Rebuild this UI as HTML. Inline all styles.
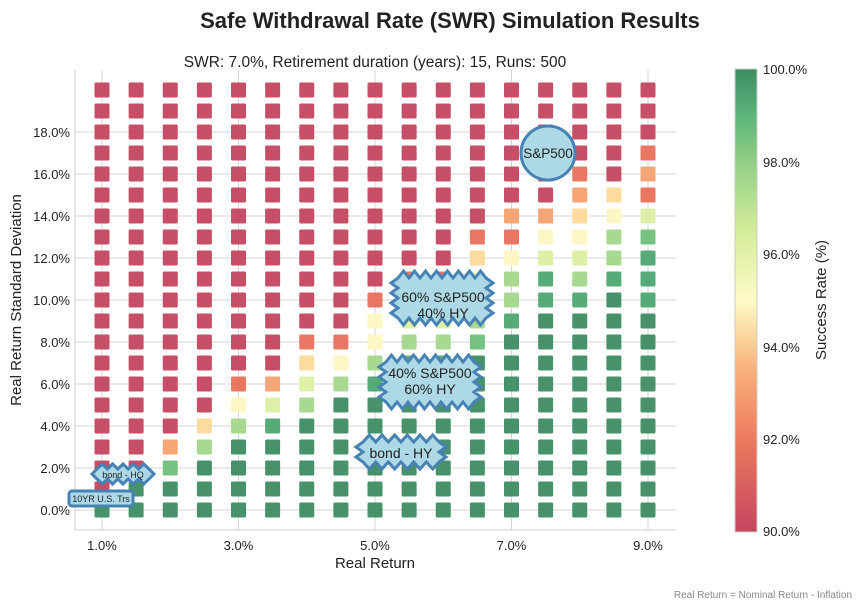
<!DOCTYPE html>
<html><head><meta charset="utf-8"><style>
html,body{margin:0;padding:0;background:#fff;}
svg{display:block;font-family:"Liberation Sans",sans-serif;}
</style></head><body>
<svg id="s" width="859" height="607" viewBox="0 0 859 607" xmlns="http://www.w3.org/2000/svg">
<defs>
<linearGradient id="cb" x1="0" y1="1" x2="0" y2="0">
<stop offset="0" stop-color="#c4455f"/>
<stop offset="0.2" stop-color="#ec7a5e"/>
<stop offset="0.35" stop-color="#f9b07a"/>
<stop offset="0.5" stop-color="#fefcc6"/>
<stop offset="0.65" stop-color="#d4ec9a"/>
<stop offset="0.8" stop-color="#90cf84"/>
<stop offset="0.9" stop-color="#5bb47a"/>
<stop offset="1" stop-color="#3d8c62"/>
</linearGradient>
</defs>
<rect width="859" height="607" fill="#fff"/>
<text x="450" y="28" text-anchor="middle" font-size="22" font-weight="bold" fill="#222">Safe Withdrawal Rate (SWR) Simulation Results</text>
<text x="375" y="67" text-anchor="middle" font-size="15.5" fill="#222">SWR: 7.0%, Retirement duration (years): 15, Runs: 500</text>
<g id="grid" stroke="#d6d6d6" stroke-width="1"></g>
<line x1="75" y1="70" x2="75" y2="530" stroke="#ccc"/>
<line x1="75" y1="530" x2="676" y2="530" stroke="#ccc"/>
<g id="cells"></g>
<g id="ticks" font-size="13" fill="#222"></g>
<text x="375" y="568" text-anchor="middle" font-size="15" fill="#222">Real Return</text>
<text transform="translate(21,300) rotate(-90)" text-anchor="middle" font-size="15" fill="#222">Real Return Standard Deviation</text>
<rect x="735" y="69" width="22" height="463" fill="url(#cb)" stroke="#ccc"/>
<g font-size="13" fill="#222">
<text x="763" y="74">100.0%</text>
<text x="763" y="167">98.0%</text>
<text x="763" y="259">96.0%</text>
<text x="763" y="352">94.0%</text>
<text x="763" y="444">92.0%</text>
<text x="763" y="536">90.0%</text>
</g>
<text transform="translate(826,300) rotate(-90)" text-anchor="middle" font-size="15" fill="#222">Success Rate (%)</text>
<text x="852" y="598" text-anchor="end" font-size="10" fill="#888">Real Return = Nominal Return - Inflation</text>
<g id="labels"></g>
</svg>
<script>
var C={R:"#c4455f",r:"#e8705b",o:"#f5a070",y:"#fdd99a",Y:"#fef7c2",l:"#dbefa0",g:"#a3d78a",G:"#6dc07a",D:"#4da672",E:"#3d8c62"};
var cols=[
"ERR","EERR","EEGo","EEEgy","EEEEgYr","EEEEDlo","EEEEEglyr","EEEEEEgYr","EEEEEEDgYYr",
"EEEEEEEDglYr","EEEEEEEDglYr","EEEEEEEEGglYyr","EEEEEEEEEDggYro","EEEEEEEEEEDDlYo",
"EEEEEEEEEEDglYyor","EEEEEEEEEEEDggYy","EEEEEEEEEEDDDGlror"];
var ns="http://www.w3.org/2000/svg";
function el(t,a,p){var e=document.createElementNS(ns,t);for(var k in a)e.setAttribute(k,a[k]);p.appendChild(e);return e;}
var g=document.getElementById("grid"),c=document.getElementById("cells"),tk=document.getElementById("ticks");
function X(r){return 102+(r-1)*68.25;}
function Y(s){return 510-s*21;}
[1,3,5,7,9].forEach(function(v){el("line",{x1:X(v),y1:70,x2:X(v),y2:530},g);var t=el("text",{x:X(v),y:550,"text-anchor":"middle"},tk);t.textContent=v.toFixed(1)+"%";});
for(var s=0;s<=18;s+=2){el("line",{x1:75,y1:Y(s),x2:676,y2:Y(s)},g);var t=el("text",{x:70,y:Y(s)+5,"text-anchor":"end"},tk);t.textContent=s.toFixed(1)+"%";}
for(var i=0;i<17;i++){var col=cols[i];for(var j=0;j<=20;j++){var k=j<col.length?col[j]:"R";
el("rect",{x:X(1+i*0.5)-7.5,y:Y(j)-7.5,width:15,height:15,rx:1.5,fill:C[k],"fill-opacity":0.95},c);}}
var L=document.getElementById("labels");
function zig(cx,cy,w,h,n,a){var p=[],x0=cx-w/2,y0=cy-h/2,i,st;
st=w/n;for(i=0;i<n;i++){p.push([x0+i*st,y0]);p.push([x0+(i+.5)*st,y0-a]);}
var m=Math.max(1,Math.round(h/st));st=h/m;for(i=0;i<m;i++){p.push([x0+w,y0+i*st]);p.push([x0+w+a,y0+(i+.5)*st]);}
st=w/n;for(i=0;i<n;i++){p.push([x0+w-i*st,y0+h]);p.push([x0+w-(i+.5)*st,y0+h+a]);}
st=h/m;for(i=0;i<m;i++){p.push([x0,y0+h-i*st]);p.push([x0-a,y0+h-(i+.5)*st]);}
el("polygon",{points:p.map(function(q){return q[0].toFixed(1)+","+q[1].toFixed(1)}).join(" "),fill:"#add8e6",stroke:"#4682b4","stroke-width":3,"stroke-linejoin":"miter"},L);}
function txt(x,y,s,fs){var t=el("text",{x:x,y:y,"text-anchor":"middle","font-size":fs,fill:"#222"},L);t.textContent=s;}
el("circle",{cx:548,cy:153,r:27,fill:"#add8e6",stroke:"#4682b4","stroke-width":3},L);txt(548,158,"S&P500",13.5);
zig(442,298,88,40,8,7);txt(443,302,"60% S&P500",14);txt(443,318,"40% HY",14);
zig(430,382,88,40,8,7);txt(430,378,"40% S&P500",14);txt(430,394,"60% HY",14);
zig(401,452,76,20,6,7);txt(401,458,"bond - HY",14);
zig(123,474,52,10,5,5);txt(123,478,"bond - HQ",9);
el("rect",{x:69,y:491,width:64,height:15,rx:3,fill:"#add8e6",stroke:"#4682b4","stroke-width":3},L);txt(101,502,"10YR U.S. Trs",9);
</script>
</body></html>
